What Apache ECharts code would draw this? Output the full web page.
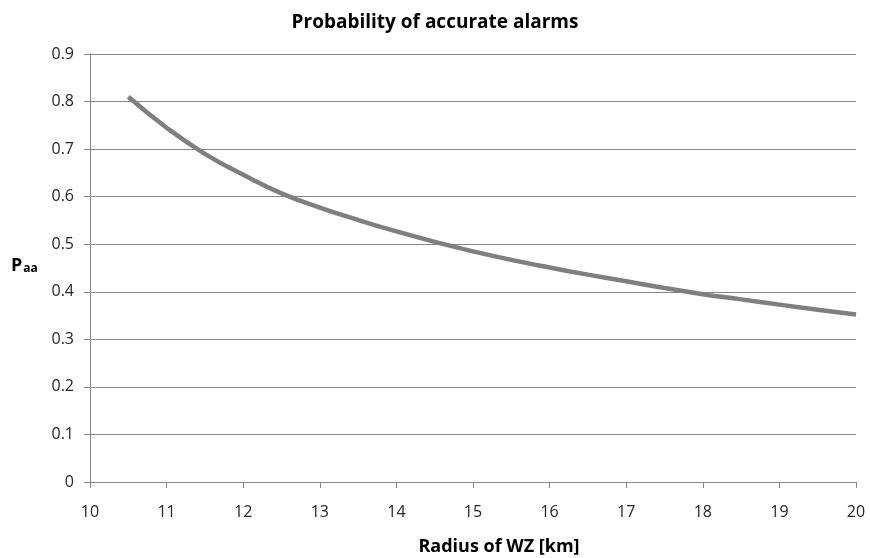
<!DOCTYPE html>
<html>
<head>
<meta charset="utf-8">
<script src="https://cdn.jsdelivr.net/npm/echarts@6/dist/echarts.min.js"></script>
<style>html,body{margin:0;padding:0;background:#fff;}#c{width:870px;height:558px;}</style>
</head>
<body>
<div id="c"></div>
<script>
const titleText = "Probability of accurate alarms";
const xAxisName = "Radius of WZ [km]";
const radius = [10.5, 11, 11.5, 12, 12.5, 13, 13.5, 14, 14.5, 15, 15.5, 16, 16.5, 17, 17.5, 18, 18.5, 19, 19.5, 20];
const paa = [0.81, 0.745, 0.69, 0.646, 0.607, 0.577, 0.551, 0.527, 0.505, 0.485, 0.467, 0.451, 0.436, 0.422, 0.408, 0.395, 0.384, 0.373, 0.362, 0.352];

const font = "'Open Sans', 'Noto Sans', sans-serif";
const chart = echarts.init(document.getElementById('c'));
chart.setOption({
  animation: false,
  title: {
    text: titleText, left: 'center', top: 8,
    textStyle: { fontFamily: font, fontSize: 19, fontWeight: 'bold', color: '#000' }
  },
  grid: { left: 90, right: 14, top: 54, bottom: 76 },
  xAxis: {
    type: 'value', min: 10, max: 20, interval: 1,
    axisLine: { show: true, lineStyle: { color: '#868686' } },
    axisTick: { show: true, length: 6, lineStyle: { color: '#868686' } },
    axisLabel: { fontFamily: font, fontSize: 16, color: '#262626', margin: 22 },
    splitLine: { show: false }
  },
  yAxis: {
    type: 'value', min: 0, max: 0.9, interval: 0.1,
    axisLine: { show: true, lineStyle: { color: '#868686' } },
    axisTick: { show: true, length: 6, lineStyle: { color: '#868686' } },
    axisLabel: { fontFamily: font, fontSize: 16, color: '#262626', margin: 16,
      formatter: v => (Math.round(v * 10) / 10).toString() },
    splitLine: { show: true, lineStyle: { color: '#868686', width: 1 } }
  },
  graphic: [
    { type: 'text', x: 499, y: 556,
      style: { text: xAxisName, font: 'bold 18px ' + font, fill: '#000', align: 'center', verticalAlign: 'bottom' } },
    { type: 'text', left: 11, top: 257,
      style: { text: '{p|P}{s|aa}', fill: '#000',
        rich: {
          p: { fontFamily: font, fontSize: 18, fontWeight: 'bold', verticalAlign: 'bottom' },
          s: { fontFamily: font, fontSize: 12, fontWeight: 'bold', padding: [8, 0, 0, 1], verticalAlign: 'bottom' }
        } } }
  ],
  series: [{
    type: 'line', smooth: true, showSymbol: false,
    data: radius.map((r, i) => [r, paa[i]]),
    lineStyle: { color: '#7f7f7f', width: 4.5 }
  }]
});
</script>
</body>
</html>
